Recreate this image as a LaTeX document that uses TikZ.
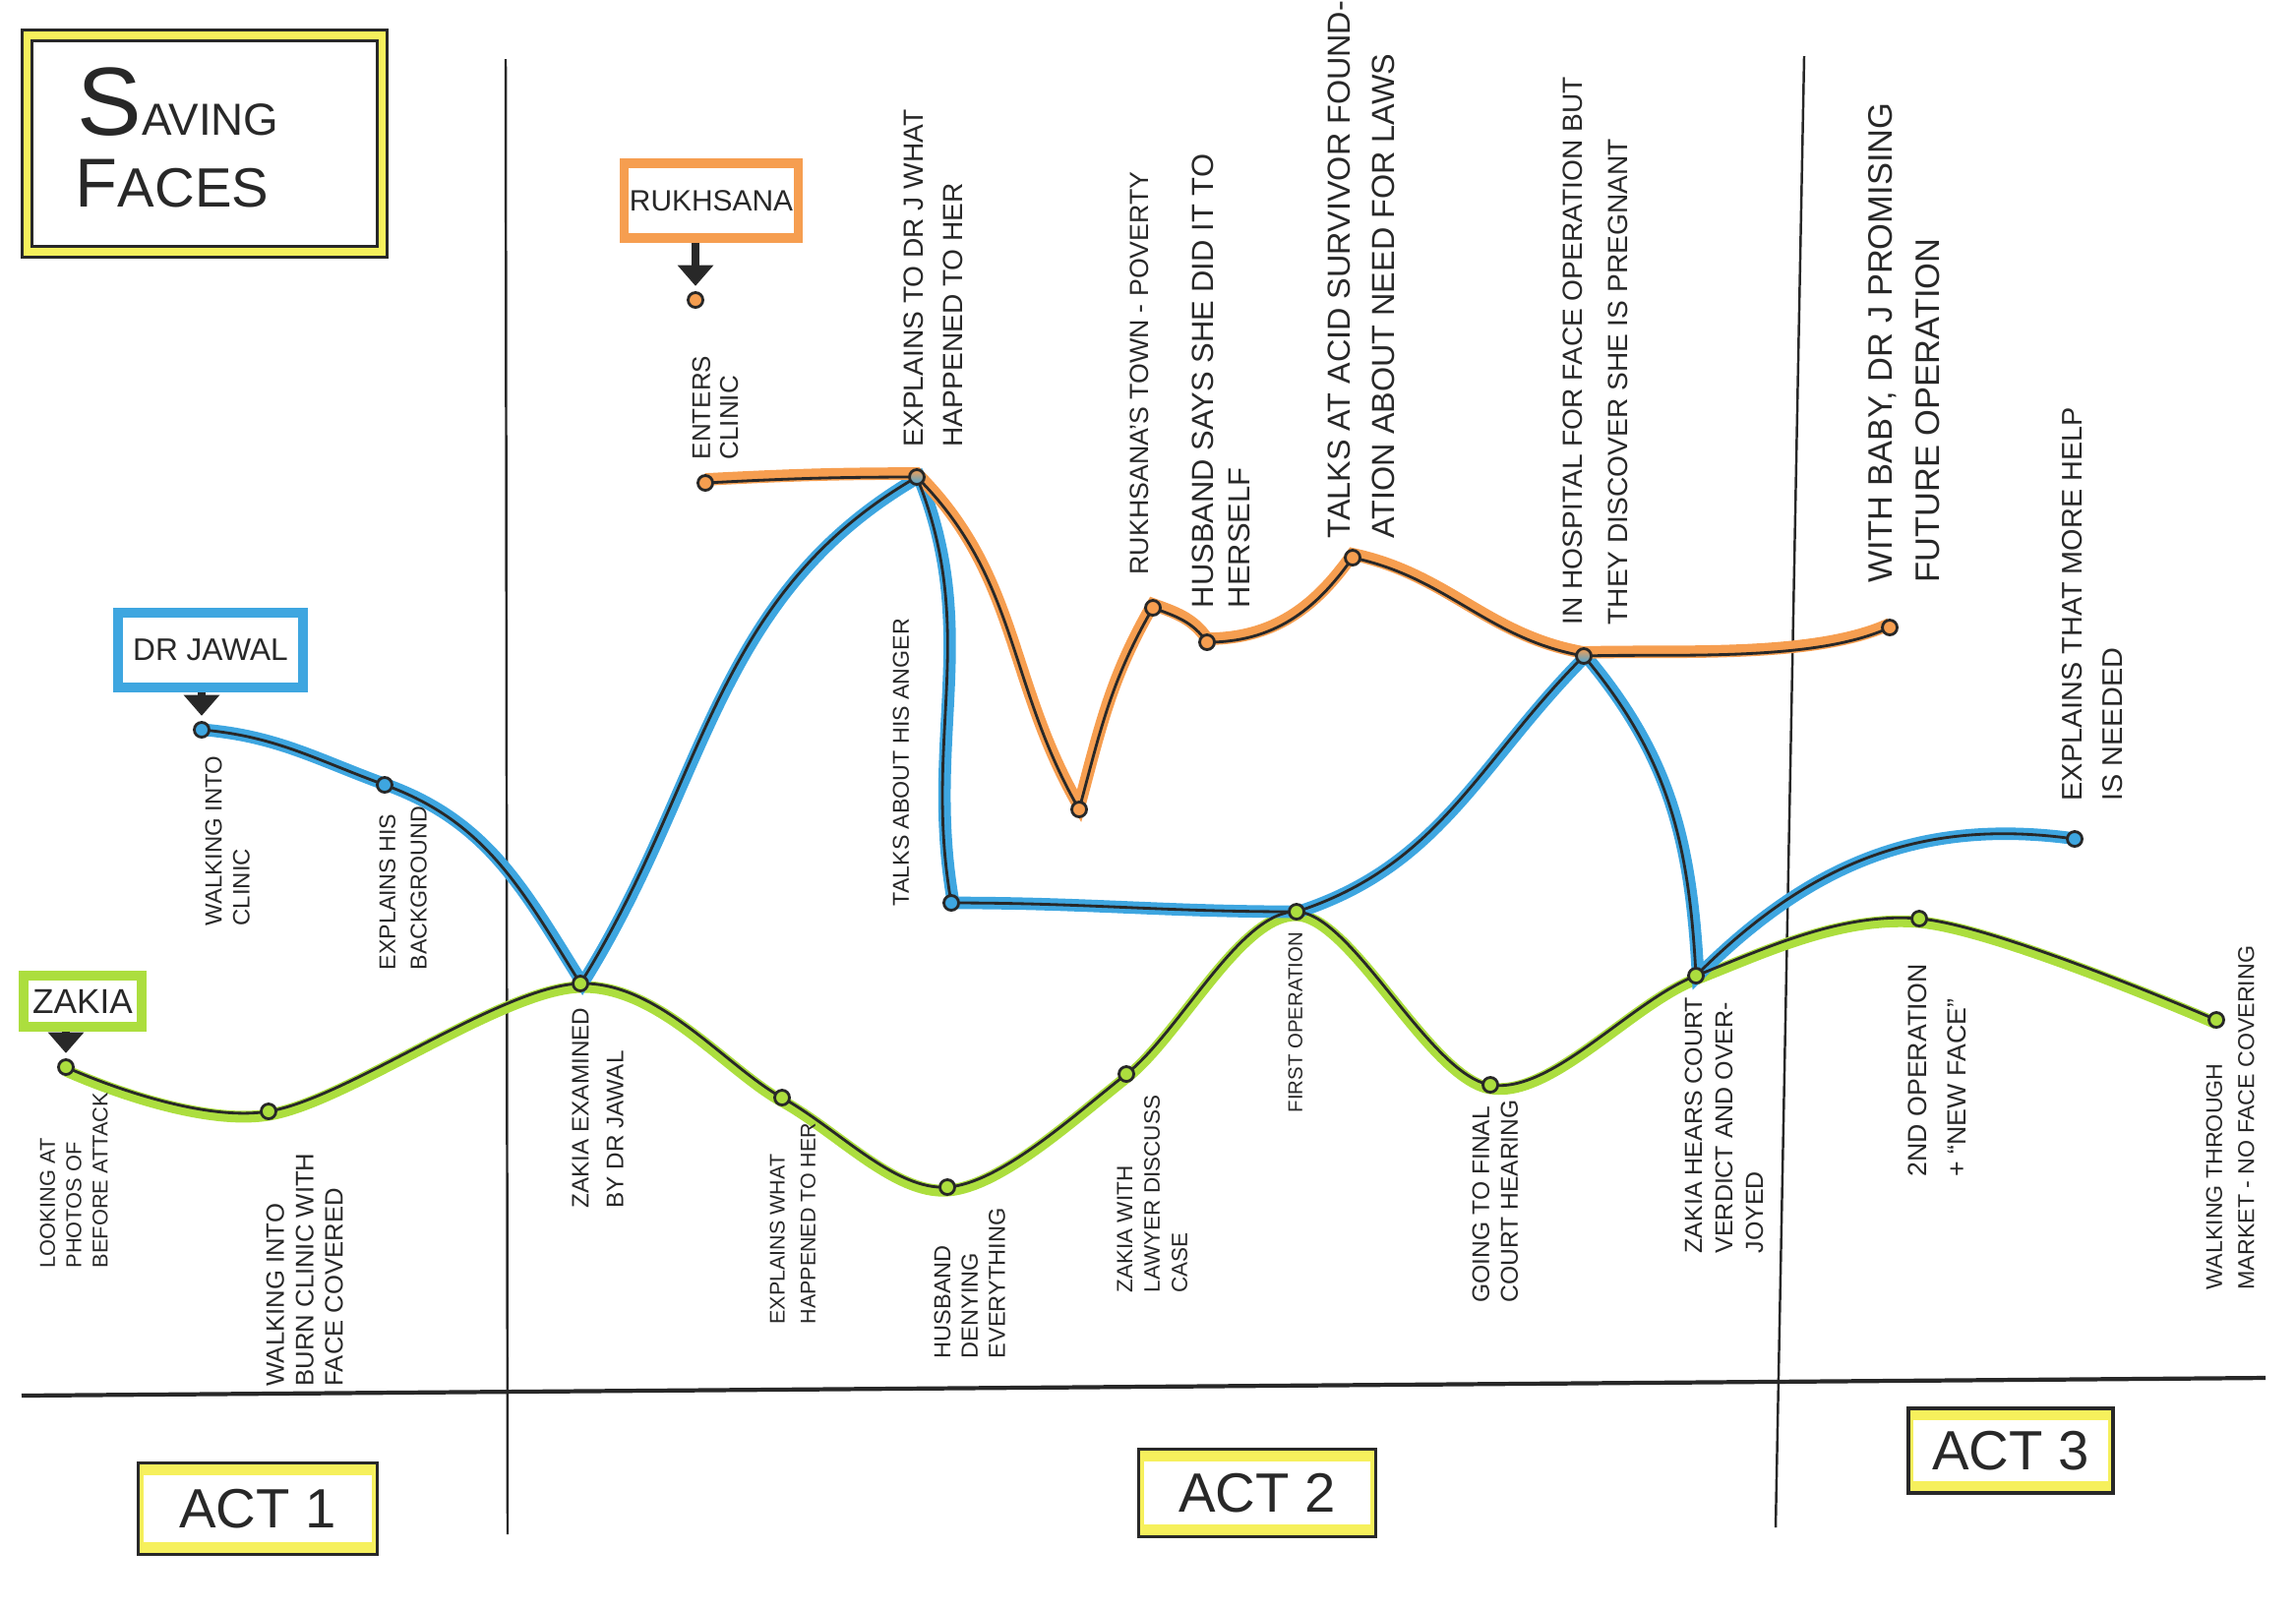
\documentclass[tikz,border=0pt]{standalone}
\usepackage{fontspec}
\setmainfont{Liberation Sans}
\usetikzlibrary{arrows.meta,backgrounds}

\definecolor{hlgreen}{RGB}{172,222,62}
\definecolor{hlblue}{RGB}{62,166,224}
\definecolor{hlorange}{RGB}{246,158,80}
\definecolor{hlyellow}{RGB}{246,240,92}
\definecolor{ink}{RGB}{40,40,40}

% the three story lines, drawn twice (marker band, then ink)
\newcommand{\zakiaroute}{plot[smooth, tension=0.55] coordinates {(zlook.center) (zwalk.center) (zexam.center) (zexpl.center) (zdeny.center) (zlawyer.center) (zop1.center) (zcourt.center) (zverdict.center) (zop2.center) (zmarket.center)}}
\newcommand{\jawalroute}{(jwalk.center) to[out=-5,in=160] (jback.center) to[out=-20,in=122] (zexam.center) to[out=58,in=-150] (rtell.center) to[out=-68,in=100] (janger.center) to[out=0,in=180] (zop1.center) to[out=18,in=-135] (rhosp.center) to[out=-50,in=93] (zverdict.center) to[out=45,in=172] (jhelp.center)}
\newcommand{\rukhroute}{(renter.center) to[out=3,in=180] (rtell.center) to[out=-45,in=120] (rlow.center) to[out=75,in=-120] (rtown.center) to[out=-20,in=125] (rhusb.center) to[out=0,in=-125] (rtalk.center) to[out=-12,in=170] (rhosp.center) to[out=2,in=-155,looseness=0.7] (rbaby.center)}

\tikzset{
  inkline/.style={draw=ink, line width=0.8pt},
  greenband/.style={draw=hlgreen, line width=3.4pt, transform canvas={yshift=-1pt}},
  blueband/.style={draw=hlblue, line width=3.6pt, transform canvas={xshift=0.6pt}},
  orangeband/.style={draw=hlorange, line width=3.6pt, transform canvas={yshift=1pt}},
  dot/.style={circle, draw=ink, line width=0.8pt, minimum size=0.15cm, inner sep=0pt},
  event/.style 2 args={rotate=90, anchor=north west, align=left, inner sep=0pt, text=ink, font=\fontsize{#1}{#2}\selectfont},
  namebox/.style={draw=#1, line width=2.8pt, inner sep=0pt, text=ink},
  namearrow/.style={draw=ink, line width=2.2pt, -{Triangle[width=10pt,length=6pt]}, shorten >=1.5pt},
  actbox/.style={draw=ink, line width=1pt, text=ink, font=\fontsize{16}{16}\selectfont,
    path picture={
      \draw[hlyellow, line width=7pt] (path picture bounding box.north west) -- (path picture bounding box.north east)
        (path picture bounding box.south west) -- (path picture bounding box.south east);
      \draw[hlyellow, line width=3pt] (path picture bounding box.north west) -- (path picture bounding box.south west)
        (path picture bounding box.north east) -- (path picture bounding box.south east);}},
  frameline/.style={draw=ink, line width=0.7pt},
}

\begin{document}
\begin{tikzpicture}[x=0.01cm, y=-0.01cm]
\useasboundingbox (0,0) rectangle (2334,1635);

% title
\node[draw=ink, line width=0.8pt, double=hlyellow, double distance=2.2pt, minimum width=3.61cm, minimum height=2.2cm] (titlebox) at (208,146) {};
\node[anchor=base, inner sep=0pt, text=ink] (titletop) at (181,137) {{\fontsize{28}{28}\selectfont S}{\fontsize{13}{13}\selectfont AVING}};
\node[anchor=base, inner sep=0pt, text=ink] (titlebot) at (175,210) {{\fontsize{20}{20}\selectfont F}{\fontsize{16}{16}\selectfont ACES}};

% characters
\node[namebox=hlorange, minimum width=1.77cm, minimum height=0.76cm, font=\fontsize{8.5}{9}\selectfont] (rbox) at (723,204) {RUKHSANA};
\node[namebox=hlblue, minimum width=1.88cm, minimum height=0.76cm, font=\fontsize{9}{9}\selectfont] (jbox) at (214,661) {DR JAWAL};
\node[namebox=hlgreen, minimum width=1.2cm, minimum height=0.52cm, font=\fontsize{10}{10}\selectfont] (zbox) at (84,1018) {ZAKIA};

% Zakia
\node[dot, fill=hlgreen] (zlook) at (67,1085) {};
\node[dot, fill=hlgreen] (zwalk) at (273,1130) {};
\node[dot, fill=hlgreen] (zexam) at (590,1000) {};
\node[dot, fill=hlgreen] (zexpl) at (795,1116) {};
\node[dot, fill=hlgreen] (zdeny) at (963,1207) {};
\node[dot, fill=hlgreen] (zlawyer) at (1145,1092) {};
\node[dot, fill=hlgreen] (zop1) at (1318,927) {};
\node[dot, fill=hlgreen] (zcourt) at (1515,1103) {};
\node[dot, fill=hlgreen] (zverdict) at (1724,992) {};
\node[dot, fill=hlgreen] (zop2) at (1951,934) {};
\node[dot, fill=hlgreen] (zmarket) at (2253,1037) {};
% Dr Jawal
\node[dot, fill=hlblue] (jwalk) at (205,742) {};
\node[dot, fill=hlblue] (jback) at (391,798) {};
\node[dot, fill=hlblue] (janger) at (967,918) {};
\node[dot, fill=hlblue] (jhelp) at (2109,853) {};
% Rukhsana
\node[dot, fill=hlorange] (rstart) at (707,305) {};
\node[dot, fill=hlorange] (renter) at (717,491) {};
\node[dot, top color=hlorange, bottom color=hlblue] (rtell) at (932,485) {};
\node[dot, fill=hlorange] (rlow) at (1097,823) {};
\node[dot, fill=hlorange] (rtown) at (1172,618) {};
\node[dot, fill=hlorange] (rhusb) at (1227,653) {};
\node[dot, fill=hlorange] (rtalk) at (1375,567) {};
\node[dot, top color=hlorange, bottom color=hlblue] (rhosp) at (1610,667) {};
\node[dot, fill=hlorange] (rbaby) at (1921,638) {};

\draw[namearrow] (rbox.south -| rstart) -- (rstart);
\draw[namearrow] (jbox.south -| jwalk) -- (jwalk);
\draw[namearrow] (zbox.south -| zlook) -- (zlook);

% event labels
\node[event={6.2}{7.6}] (lzlook) at (40,1290) {LOOKING AT\\PHOTOS OF\\BEFORE ATTACK};
\node[event={7.3}{8.5}] (lzwalk) at (270,1410) {WALKING INTO\\BURN CLINIC WITH\\FACE COVERED};
\node[event={6.9}{10}] (lzexam) at (581,1229) {ZAKIA EXAMINED\\BY DR JAWAL};
\node[event={6.1}{8.9}] (lzexpl) at (782,1347) {EXPLAINS WHAT\\HAPPENED TO HER};
\node[event={6.7}{7.9}] (lzdeny) at (949,1382) {HUSBAND\\DENYING\\EVERYTHING};
\node[event={6.4}{7.9}] (lzlawyer) at (1135,1315) {ZAKIA WITH\\LAWYER DISCUSS\\CASE};
\node[event={5.8}{7}] (lzop1) at (1309,1132) {FIRST OPERATION};
\node[event={7}{8.2}] (lzcourt) at (1496,1325) {GOING TO FINAL\\COURT HEARING};
\node[event={7.1}{8.8}] (lzverdict) at (1712,1275) {ZAKIA HEARS COURT\\VERDICT AND OVER-\\JOYED};
\node[event={7.6}{11.4}] (lzop2) at (1939,1197) {2ND OPERATION\\+ “NEW FACE”};
\node[event={6.6}{9.2}] (lzmarket) at (2242,1312) {WALKING THROUGH\\MARKET - NO FACE COVERING};
\node[event={6.8}{8}] (ljwalk) at (208,942) {WALKING INTO\\CLINIC};
\node[event={6.6}{9}] (ljback) at (385,987) {EXPLAINS HIS\\BACKGROUND};
\node[event={6.6}{8}] (ljanger) at (907,922) {TALKS ABOUT HIS ANGER};
\node[event={8.2}{11.5}] (ljhelp) at (2096,815) {EXPLAINS THAT MORE HELP\\IS NEEDED};
\node[event={7.4}{8}] (lrenter) at (703,468) {ENTERS\\CLINIC};
\node[event={8}{11.3}] (lrtell) at (918,455) {EXPLAINS TO DR J WHAT\\HAPPENED TO HER};
\node[event={7.6}{9}] (lrtown) at (1148,585) {RUKHSANA’S TOWN - POVERTY};
\node[event={8.8}{10.5}] (lrhusb) at (1211,619) {HUSBAND SAYS SHE DID IT TO\\HERSELF};
\node[event={9.2}{12.8}] (lrtalk) at (1349,548) {TALKS AT ACID SURVIVOR FOUND-\\ATION ABOUT NEED FOR LAWS};
\node[event={8}{13}] (lrhosp) at (1588,636) {IN HOSPITAL FOR FACE OPERATION BUT\\THEY DISCOVER SHE IS PREGNANT};
\node[event={9.8}{13.6}] (lrbaby) at (1899,593) {WITH BABY, DR J PROMISING\\FUTURE OPERATION};

% acts
\node[actbox, minimum width=2.43cm, minimum height=0.93cm] (act1) at (262,1534) {ACT 1};
\node[actbox, minimum width=2.41cm, minimum height=0.89cm] (act2) at (1278,1518) {ACT 2};
\node[actbox, minimum width=2.08cm, minimum height=0.86cm] (act3) at (2044,1475) {ACT 3};

\begin{scope}[on background layer]
  \draw[frameline, line width=1.2pt] (22,1419) -- (2303,1401);
  \draw[frameline] (514,60) -- (516,1560);
  \draw[frameline] (1834,57) -- (1805,1553);
  \draw[greenband] \zakiaroute;
  \draw[blueband] \jawalroute;
  \draw[orangeband] \rukhroute;
  \foreach \route in {\zakiaroute,\jawalroute,\rukhroute}
    \draw[inkline] \route;
\end{scope}
\end{tikzpicture}
\end{document}
